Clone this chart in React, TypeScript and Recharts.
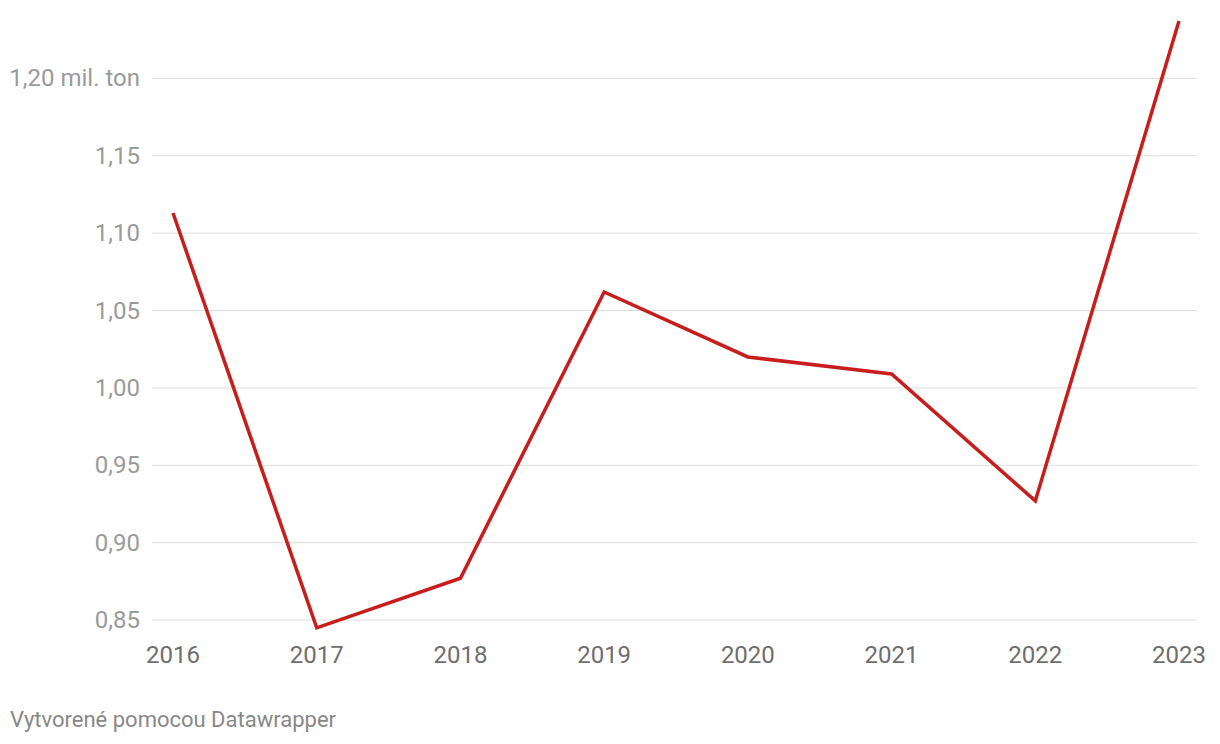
import React from 'react';
import { LineChart, Line, XAxis, YAxis, CartesianGrid } from 'recharts';

const YEARS = ['2016', '2017', '2018', '2019', '2020', '2021', '2022', '2023'];
const VALUES = [1.113, 0.845, 0.877, 1.062, 1.02, 1.009, 0.927, 1.237];
const Y_TICKS = [0.85, 0.9, 0.95, 1.0, 1.05, 1.1, 1.15, 1.2];

const data = YEARS.map((year, i) => ({ year, value: VALUES[i] }));

const fmt = (v: number) => {
  const s = v.toFixed(2).replace('.', ',');
  return v >= 1.195 ? `${s} mil. ton` : s;
};

const YTick = (props: any) => {
  const { y, payload } = props;
  return (
    <text x={140} y={y} textAnchor="end" dominantBaseline="central" fontSize={24} fill="#9a9a9a" fontFamily="Roboto">
      {fmt(payload.value)}
    </text>
  );
};

const XTick = (props: any) => {
  const { x, payload } = props;
  return (
    <text x={x} y={655} textAnchor="middle" dominantBaseline="central" fontSize={24} fill="#6e6e6e" fontFamily="Roboto">
      {payload.value}
    </text>
  );
};

const App: React.FC = () => {
  return (
    <div style={{ position: 'absolute', left: 0, top: 0, width: 1220, height: 744, background: '#fff', fontFamily: 'Roboto' }}>
      <LineChart width={1220} height={744} data={data} margin={{ top: 1, right: 23, left: 0, bottom: 63 }}>
        <CartesianGrid horizontal vertical={false} horizontalValues={Y_TICKS} stroke="#dedede" strokeWidth={1} />
        <XAxis
          dataKey="year"
          axisLine={false}
          tickLine={false}
          tick={<XTick />}
          height={30}
          padding={{ left: 21, right: 18 }}
          interval={0}
        />
        <YAxis
          type="number"
          domain={[0.83, 1.25]}
          ticks={Y_TICKS}
          allowDataOverflow
          axisLine={false}
          tickLine={false}
          tick={<YTick />}
          width={152}
        />
        <Line
          type="linear"
          dataKey="value"
          stroke="#c71e1d"
          strokeWidth={3.5}
          dot={false}
          activeDot={false}
          isAnimationActive={false}
        />
      </LineChart>
      <div style={{ position: 'absolute', left: 10, top: 707, fontSize: 22, color: '#888', fontFamily: 'Roboto' }}>
        Vytvorené pomocou Datawrapper
      </div>
    </div>
  );
};

export default App;
